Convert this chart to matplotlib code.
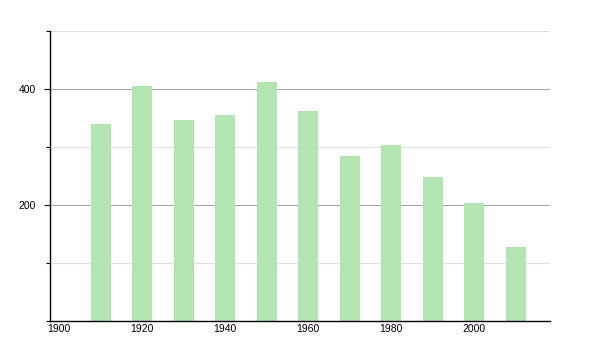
import matplotlib
matplotlib.use("Agg")
import matplotlib.pyplot as plt
from matplotlib.ticker import MultipleLocator

years = [1910, 1920, 1930, 1940, 1950, 1960, 1970, 1980, 1990, 2000, 2010]
population = [340, 405, 346, 355, 412, 362, 284, 303, 248, 203, 127]
x_ticks = [1900, 1920, 1940, 1960, 1980, 2000]
y_ticks = [200, 400]

plt.rcParams['font.family'] = ['Liberation Sans', 'DejaVu Sans']

fig = plt.figure(figsize=(6, 3.5), dpi=100)
ax = fig.add_axes([50/600, 29/350, 500/600, 290/350])

ax.bar(years, population, width=4.8, color='#b3e5b3', zorder=2)

ax.set_xlim(1897.8, 2018.3)
ax.set_ylim(0, 500)
ax.set_yticks(y_ticks)
ax.yaxis.set_minor_locator(MultipleLocator(100))
ax.set_xticks(x_ticks)
ax.set_xticklabels([str(v) for v in x_ticks])

ax.grid(axis='y', which='major', color='#a8a8a8', linewidth=0.8, zorder=1)
ax.grid(axis='y', which='minor', color='#e0e0e0', linewidth=0.8, zorder=1)

for s in ['top', 'right']:
    ax.spines[s].set_visible(False)
for s in ['left', 'bottom']:
    ax.spines[s].set_color('black')
    ax.spines[s].set_linewidth(1.0)

ax.tick_params(axis='y', which='both', length=4, width=0.8, labelsize=7.5, pad=6, colors='black')
ax.tick_params(axis='y', which='minor', length=3)
ax.tick_params(axis='x', length=0, labelsize=7.5, pad=2, colors='black')

fig.savefig('out.png', dpi=100, facecolor='white')
